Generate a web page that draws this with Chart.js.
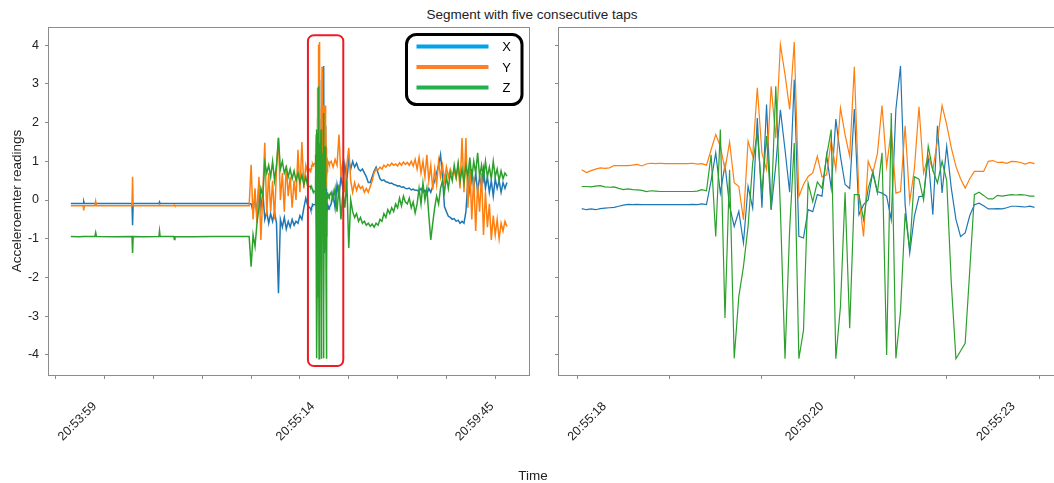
<!DOCTYPE html>
<html>
<head>
<meta charset="utf-8">
<title>Segment with five consecutive taps</title>
<script src="https://cdn.jsdelivr.net/npm/chart.js@4.4.0/dist/chart.umd.min.js"></script>
<style>
  html, body { margin: 0; padding: 0; background: #fff; overflow: hidden; }
  body { width: 1054px; height: 483px; position: relative; font-family: 'Liberation Sans', Arial, sans-serif; color: #222; }
  #overview-wrap { position: absolute; left: 0; top: 0; width: 545px; height: 483px; }
  #taps-wrap { position: absolute; left: 545px; top: 0; width: 525px; height: 483px; }
  .suptitle { position: absolute; left: 0; width: 1064px; top: 7px; text-align: center; font-size: 13.5px; line-height: 16px; }
  .xlabel { position: absolute; left: 0; width: 1066px; top: 468px; text-align: center; font-size: 13.5px; line-height: 16px; }
</style>
</head>
<body>
<div class="suptitle">Segment with five consecutive taps</div>
<div id="overview-wrap"><canvas id="overview" width="545" height="483"></canvas></div>
<div id="taps-wrap"><canvas id="taps" width="525" height="483"></canvas></div>
<div class="xlabel">Time</div>

<script>
// ---- tick positions and labels ----
const yTicks = [-4, -3, -2, -1, 0, 1, 2, 3, 4];
const overviewMarks = [0, 250, 500, 750, 1000, 1250, 1500, 1750, 2000, 2250];
const overviewLabelAt = [199, 1316, 2233];
const overviewLabels = ['20:53:59', '20:55:14', '20:59:45'];
const tapMarks = [0, 20, 40, 60, 80, 100];
const tapLabelAt = [5.9, 53, 94.4];
const tapLabels = ['20:55:18', '20:50:20', '20:55:23'];

// ---- resting phase (sparse, the signal is flat here) ----
const quietS = [77, 120, 140, 143, 146, 180, 200, 204, 208, 300, 390, 393, 396, 450, 528, 531, 534, 604, 607, 610, 700, 800, 850, 900, 990];
const quietX = [-0.09, -0.09, -0.09, -0.04, -0.09, -0.09, -0.09, -0.10, -0.09, -0.09, -0.09, -0.65, -0.09, -0.09, -0.09, -0.05, -0.09, -0.09, -0.09, -0.09, -0.09, -0.09, -0.09, -0.09, -0.09];
const quietY = [-0.15, -0.15, -0.15, -0.27, -0.15, -0.15, -0.15, -0.03, -0.15, -0.15, -0.15, 0.60, -0.15, -0.15, -0.15, -0.12, -0.15, -0.15, -0.13, -0.15, -0.15, -0.15, -0.15, -0.15, -0.15];
const quietZ = [-0.94, -0.95, -0.94, -0.94, -0.94, -0.94, -0.94, -0.84, -0.94, -0.95, -0.94, -1.37, -0.94, -0.95, -0.94, -0.80, -0.94, -0.94, -1.02, -0.94, -0.95, -0.94, -0.94, -0.94, -0.94];

// ---- moving, before the taps (samples 1000..1300, every 10) ----
const preStart = 1000, preStep = 10;
const preX = [-0.10, -0.30, 0.10, -0.40, 0.45, -0.20, 0.20, -0.50, -0.30, -0.60, -0.35, -0.55, -0.30, -0.60, -2.41, -0.50, -0.70, -0.45, -0.75, -0.55, -0.70, -0.50, -0.65, -0.55, -0.60, -0.40, -0.50, -0.20, 0.05, -0.15, -0.20];
const preY = [0.91, -0.50, 0.30, -0.60, 0.60, -1.03, 0.20, 1.48, -0.40, 0.70, -0.30, 0.50, -0.50, 0.80, 1.61, 0.00, 0.70, -0.30, 0.90, 0.10, 0.60, -0.20, 0.50, 0.00, 1.30, 0.20, 1.50, 0.30, 0.90, 0.70, 0.80];
const preZ = [-1.72, -0.90, -1.20, -0.60, -0.20, 0.30, 0.10, 0.96, 0.70, 0.90, 0.60, 1.00, 0.50, 0.90, 1.61, 0.80, 1.00, 0.70, 0.85, 0.60, 0.80, 0.55, 0.75, 0.50, 0.70, 0.45, 0.65, 0.40, 0.60, 0.35, 0.35];

// ---- the five taps, sample by sample (samples 1..99 of the segment) ----
const tapOffset = 1303;
const tapX = [
  -0.22, -0.25, -0.23, -0.25, -0.22, -0.21, -0.20, -0.19, -0.16, -0.13,
  -0.11, -0.12, -0.11, -0.12, -0.12, -0.12, -0.12, -0.12, -0.12, -0.12,
  -0.12, -0.12, -0.12, -0.12, -0.11, -0.12, -0.10, -0.12, 0.50, 1.22,
  0.18, 0.91, -0.16, -0.68, -0.29, -1.11, 0.35, -0.21, 2.12, -0.20,
  2.47, -0.25, 0.90, 2.33, 1.30, 0.20, 3.11, -0.94, -0.98, -0.25,
  -0.30, 0.14, 0.10, 1.17, 0.30, 2.09, 1.13, 0.40, 0.30, 2.35,
  -0.38, -0.12, 0.00, 0.74, 0.22, 0.18, 0.10, -0.51, 2.34, 3.46,
  -0.12, -1.37, -0.42, 0.09, 0.10, 1.13, -0.38, 1.92, 0.18, 1.39,
  0.30, -0.50, -0.94, -0.85, -0.40, -0.12, -0.08, -0.15, -0.23, -0.23,
  -0.22, -0.23, -0.20, -0.16, -0.16, -0.17, -0.18, -0.16, -0.19
];
const tapY = [
  0.78, 0.71, 0.76, 0.80, 0.83, 0.82, 0.83, 0.89, 0.89, 0.89,
  0.89, 0.90, 0.92, 0.88, 0.93, 0.95, 0.94, 0.95, 0.94, 0.94,
  0.94, 0.94, 0.94, 0.94, 0.95, 0.93, 0.94, 0.90, 1.30, 1.69,
  1.39, 0.78, 1.50, 0.45, 0.35, -0.51, 1.52, 1.13, 2.90, 1.22,
  0.78, 2.94, 1.60, 4.02, 3.24, 2.34, 4.08, 0.09, 0.40, 0.61,
  0.70, 1.13, 0.60, 0.65, 1.54, 0.78, 2.38, 1.69, 1.13, 3.44,
  0.09, -0.94, 1.00, 0.70, 1.20, 2.44, 0.87, 1.82, 0.18, 0.22,
  1.92, -0.04, 0.80, 2.41, 0.70, 1.15, 0.78, 1.54, 2.44, 1.95,
  1.35, 0.87, 0.55, 0.31, 0.55, 0.74, 0.74, 0.74, 1.00, 1.02,
  0.97, 0.98, 0.95, 1.00, 0.99, 0.97, 0.93, 0.97, 0.94
];
const tapZ = [
  0.35, 0.35, 0.34, 0.36, 0.37, 0.34, 0.33, 0.34, 0.30, 0.27,
  0.29, 0.27, 0.26, 0.25, 0.22, 0.24, 0.23, 0.22, 0.22, 0.22,
  0.22, 0.22, 0.22, 0.22, 0.22, 0.23, 0.27, 0.24, 1.17, -0.94,
  1.82, -3.05, 0.78, -4.09, -2.49, -1.72, -0.68, 0.96, 1.73, 0.18,
  1.65, -0.25, 2.94, -0.25, -4.10, -0.77, 1.47, -4.10, -3.36, 0.44,
  -0.04, 0.47, 0.30, 1.13, 1.82, -4.10, -2.75, 0.20, -3.31, 0.14,
  0.14, -0.51, 0.30, 0.70, 0.18, 1.22, -4.00, 2.25, -4.09, -2.88,
  -0.34, -1.29, 0.60, 0.54, 0.00, 1.39, 0.77, 0.44, 1.00, 0.50,
  -2.15, -4.10, -3.90, -3.70, -1.80, 0.14, 0.20, 0.12, 0.03, 0.03,
  0.12, 0.10, 0.12, 0.14, 0.13, 0.14, 0.13, 0.10, 0.10
];

// ---- moving, after the taps (samples 1410..2310, every 10) ----
const postStart = 1410, postStep = 10;
const postX = [
  -0.10, 0.20, -0.20, 0.40, 0.10, 0.60, 0.30, 0.90, 0.50, 1.04,
  0.80, 1.00, 0.85, 0.95, 0.80, 0.75, 0.80, 0.70, 0.60, 0.45,
  0.45, 0.60, 0.75, 0.85, 0.70,
  0.55, 0.50, 0.52, 0.47, 0.46, 0.43, 0.44, 0.40, 0.39, 0.36, 0.37, 0.33, 0.34, 0.30, 0.29, 0.31, 0.26, 0.28, 0.25,
  0.25, 0.22, 0.30, 0.20, 0.25, 0.15, 0.30, 0.20, 0.35, 0.50, 0.70, 0.90, 1.17, 0.60,
  -0.17, -0.30, -0.42, -0.45, -0.50, -0.48, -0.55, -0.52, -0.60, -0.55, -0.60, -0.30,
  0.50, 0.20, 0.80, 0.30, 0.70, 0.20, 0.60, 0.35, 0.80, 0.30, 0.60, 0.20, 0.50, 0.10, 0.55, 0.30, 0.50, 0.20, 0.45, 0.30, 0.45
];
const postY = [
  1.00, 0.85, 1.05, 0.90, 1.69, 0.60, 1.00, 0.20, 0.90, 1.35,
  0.50, 0.20, 0.45, 0.25, 0.40, 0.30, 0.35, 0.20, 0.30, 0.20,
  0.35, 0.50, 0.70, 0.80, 0.78,
  0.85, 0.80, 0.90, 0.85, 0.92, 0.88, 0.95, 0.90, 0.93, 0.88, 0.96, 0.90, 0.98, 0.92, 0.97, 0.90, 1.00, 0.88, 1.05,
  0.80, 1.10, 0.70, 1.00, 0.60, 1.17, 0.50, 0.90, 0.27, 0.80, 0.40, 1.00, 0.60, 0.90,
  0.50, 0.85, 0.60, 0.80, 0.65, 0.75, 0.55, 0.90, 0.30, 1.60, 0.20, 1.60,
  -0.20, 0.90, -0.50, 0.60, -0.80, 0.40, -0.30, 0.70, -0.90, 0.20, -0.70, -0.10, -1.03, -0.40, -0.90, -0.50, -1.00, -0.60, -0.80, -0.55, -0.68
];
const postZ = [
  0.20, 0.00, 0.30, -0.30, 0.40, -0.50, 0.20, -0.20, 0.50, -1.24,
  0.00, -0.30, -0.45, -0.35, -0.55, -0.45, -0.60, -0.55, -0.65, -0.60,
  -0.68, -0.62, -0.70, -0.60, -0.65,
  -0.50, -0.55, -0.35, -0.45, -0.25, -0.35, -0.20, -0.30, -0.10, -0.20, 0.05, -0.15, 0.10, -0.05, -0.10, 0.05, -0.20, -0.05, -0.33,
  -0.10, 0.30, -0.10, 0.44, 0.00, 0.30, -0.40, -1.03, -0.60, -0.20, 0.10, -0.10, 0.30, 0.50,
  0.20, 0.60, 0.30, 0.70, 0.50, 0.90, 0.60, 0.96, 0.50, 0.80, 0.45, 0.90,
  0.60, 1.10, 0.55, 1.00, 0.70, 1.22, 0.60, 0.90, 0.55, 1.00, 0.60, 0.85, 0.55, 1.00, 0.60, 0.80, 0.50, 0.75, 0.55, 0.70, 0.62
];

// ---- styling ----
const axisGrey = '#8c8c8c';
const textColor = '#222';
const family = "'Liberation Sans', Arial, sans-serif";
const tickFont = { family, size: 12.5 };
const lineColors = ['#1f77b4', '#ff7f0e', '#2ca02c'];
const keyColors = ['#00a2e8', '#ff7f27', '#22b14c'];
const names = ['X', 'Y', 'Z'];

// stitch the three phases of the recording into {x, y} points
function overviewPoints(quiet, pre, tap, post) {
  const pts = [];
  quiet.forEach((v, k) => pts.push({ x: quietS[k], y: v }));
  pre.forEach((v, k) => pts.push({ x: preStart + k * preStep, y: v }));
  tap.forEach((v, k) => pts.push({ x: tapOffset + k + 1, y: v }));
  post.forEach((v, k) => pts.push({ x: postStart + k * postStep, y: v }));
  return pts;
}
function tapPoints(values) {
  return values.map((v, k) => ({ x: k + 1, y: v }));
}

function series(k, points, width) {
  return {
    label: names[k], data: points, borderColor: lineColors[k], borderWidth: width,
    pointRadius: 0, fill: false, tension: 0, order: 3 - k
  };
}

function timeAxis(min, max, marks, labelAt, labels) {
  return {
    type: 'linear', min, max,
    afterBuildTicks(scale) {
      const t = marks.map(v => ({ value: v, mark: true }))
        .concat(labelAt.map((v, k) => ({ value: v, text: labels[k] })));
      t.sort((a, b) => a.value - b.value);
      scale.ticks = t;
    },
    afterFit(scale) { scale.height = 108; },
    ticks: {
      autoSkip: false, minRotation: 45, maxRotation: 45, padding: 20,
      font: tickFont, color: textColor,
      callback(value, index, ticks) { return ticks[index].text || ''; }
    },
    grid: {
      drawOnChartArea: false, tickLength: 4, lineWidth: 1,
      tickColor: ctx => (ctx.tick && ctx.tick.mark) ? axisGrey : 'rgba(0,0,0,0)'
    },
    border: { display: false }
  };
}

function readingAxis(width, withLabels) {
  return {
    min: -4.52, max: 4.47,
    afterBuildTicks(scale) { scale.ticks = yTicks.map(v => ({ value: v })); },
    afterFit(scale) { scale.width = width; },
    ticks: { font: tickFont, color: textColor, padding: 6, callback: v => withLabels ? String(v) : '' },
    grid: { drawOnChartArea: false, tickLength: 4, tickColor: axisGrey },
    border: { display: false },
    title: {
      display: withLabels, text: 'Acceleroemter readings', color: textColor,
      font: { family, size: 13.5 }, padding: { top: 9, bottom: 0 }
    }
  };
}

// grey box round the plotting area
const framePlugin = {
  id: 'frame',
  afterDatasetsDraw(chart) {
    const { ctx, chartArea: a } = chart;
    const x0 = Math.round(a.left) - 0.5, y0 = Math.round(a.top) + 0.5;
    const x1 = Math.round(a.right) + 0.5, y1 = Math.round(a.bottom) + 0.5;
    ctx.save();
    ctx.strokeStyle = axisGrey;
    ctx.lineWidth = 1;
    ctx.strokeRect(x0, y0, x1 - x0, y1 - y0);
    ctx.restore();
  }
};

// red rounded box marking the tap segment, in data units
const tapBox = { from: 1291, to: 1472, top: 4.26, bottom: -4.29 };
const highlightPlugin = {
  id: 'highlight',
  afterDatasetsDraw(chart) {
    const { ctx, scales } = chart;
    const l = scales.x.getPixelForValue(tapBox.from);
    const r = scales.x.getPixelForValue(tapBox.to);
    const t = scales.y.getPixelForValue(tapBox.top);
    const b = scales.y.getPixelForValue(tapBox.bottom);
    ctx.save();
    ctx.strokeStyle = '#ed1c24';
    ctx.lineWidth = 2;
    ctx.beginPath();
    ctx.roundRect(l, t, r - l, b - t, 6);
    ctx.stroke();
    ctx.restore();
  }
};

// hand-drawn style key with thick black rounded border
const keyPlugin = {
  id: 'key',
  afterDraw(chart) {
    const { ctx, chartArea: a } = chart;
    const left = a.right - 122.5, top = a.top + 7.5, w = 115.5, h = 70;
    ctx.save();
    ctx.fillStyle = '#fff';
    ctx.strokeStyle = '#000';
    ctx.lineWidth = 3;
    ctx.beginPath();
    ctx.roundRect(left, top, w, h, 10);
    ctx.fill();
    ctx.stroke();
    ctx.font = '13px ' + family;
    ctx.textAlign = 'center';
    ctx.textBaseline = 'middle';
    names.forEach((n, k) => {
      const y = top + 12 + k * 20.5;
      ctx.strokeStyle = keyColors[k];
      ctx.lineWidth = 4;
      ctx.beginPath();
      ctx.moveTo(left + 10, y);
      ctx.lineTo(left + 82, y);
      ctx.stroke();
      ctx.fillStyle = '#000';
      ctx.fillText(n, left + 100, y + 1);
    });
    ctx.restore();
  }
};

const common = {
  responsive: false, animation: false, parsing: false, normalized: true, events: [],
  plugins: { legend: { display: false }, tooltip: { enabled: false } }
};

new Chart(document.getElementById('overview'), {
  type: 'line',
  data: {
    datasets: [
      series(0, overviewPoints(quietX, preX, tapX, postX), 1.5),
      series(1, overviewPoints(quietY, preY, tapY, postY), 1.5),
      series(2, overviewPoints(quietZ, preZ, tapZ, postZ), 1.5)
    ]
  },
  options: Object.assign({}, common, {
    layout: { padding: { top: 27, right: 16, bottom: 0, left: 0 } },
    scales: {
      x: timeAxis(-35, 2423, overviewMarks, overviewLabelAt, overviewLabels),
      y: readingAxis(49, true)
    }
  }),
  plugins: [framePlugin, highlightPlugin, keyPlugin]
});

new Chart(document.getElementById('taps'), {
  type: 'line',
  data: {
    datasets: [
      series(0, tapPoints(tapX), 1.2),
      series(1, tapPoints(tapY), 1.2),
      series(2, tapPoints(tapZ), 1.2)
    ]
  },
  options: Object.assign({}, common, {
    layout: { padding: { top: 27, right: 8.5, bottom: 0, left: 0 } },
    scales: {
      x: timeAxis(-3.93, 103.93, tapMarks, tapLabelAt, tapLabels),
      y: readingAxis(14, false)
    }
  }),
  plugins: [framePlugin]
});
</script>
</body>
</html>
